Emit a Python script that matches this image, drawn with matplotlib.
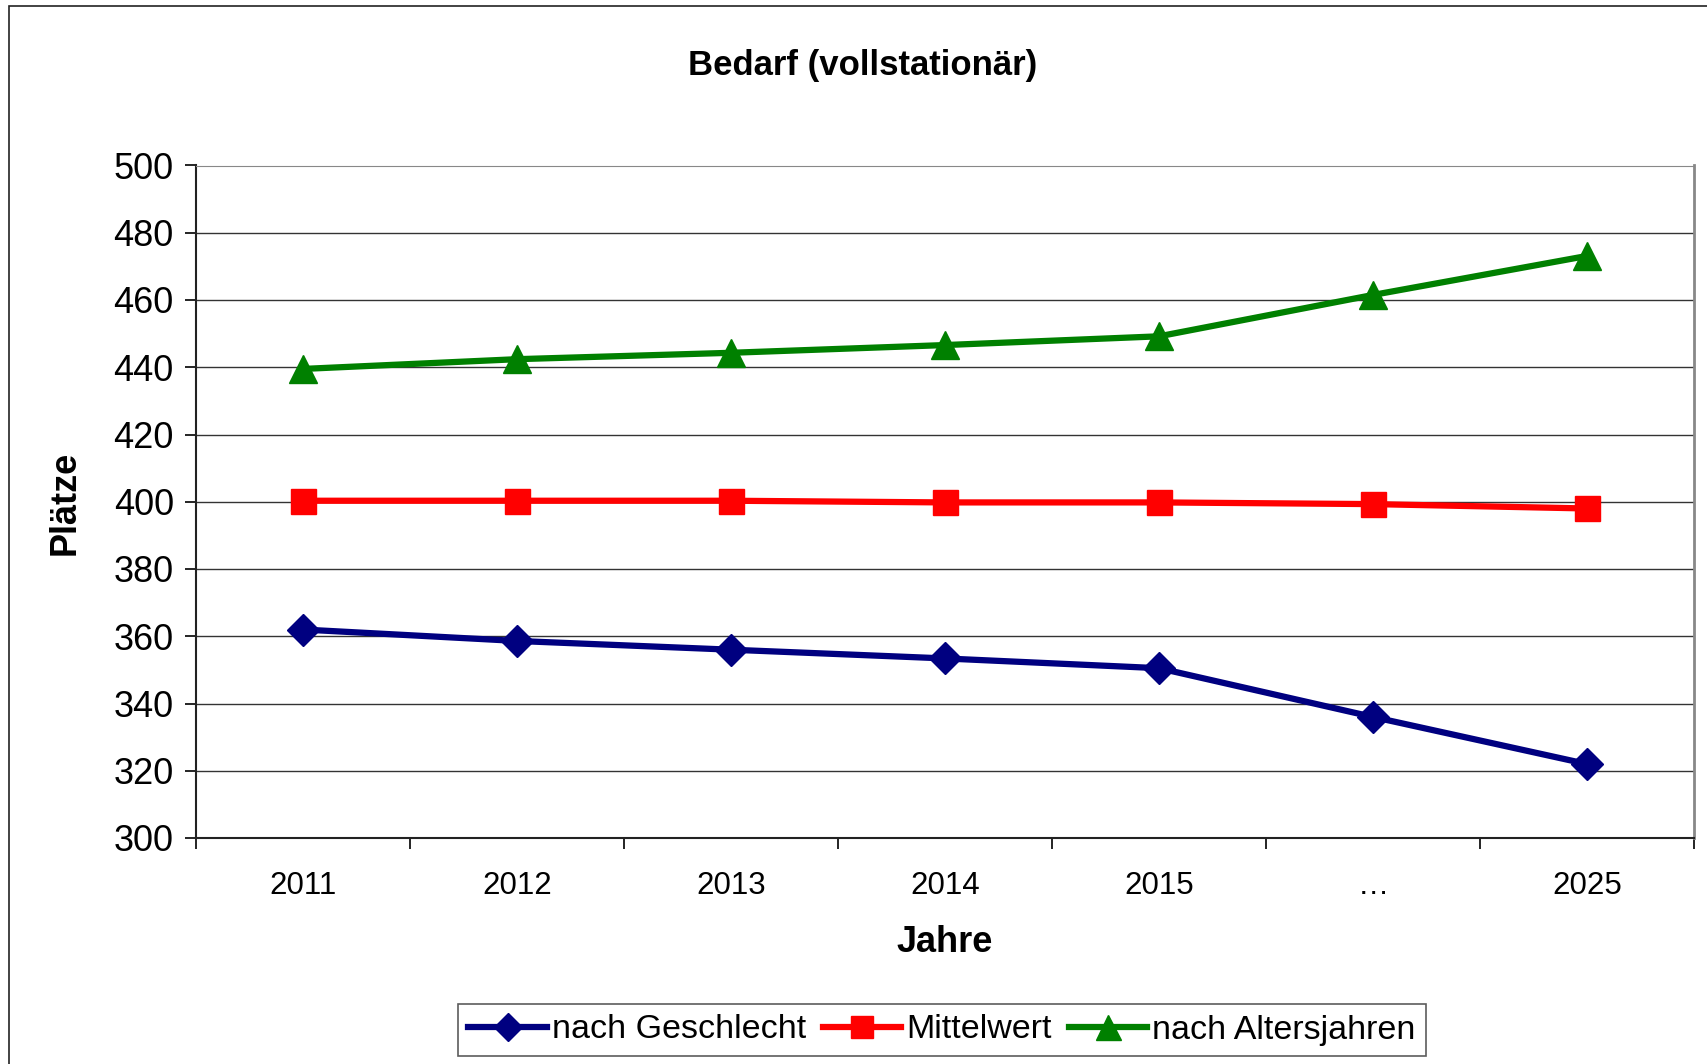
import matplotlib
matplotlib.use("Agg")
import matplotlib.pyplot as plt
from matplotlib.patches import Rectangle

# data
jahre = ["2011", "2012", "2013", "2014", "2015", "…", "2025"]
nach_geschlecht = [362, 358.6, 356, 353.4, 350.5, 336, 322]
mittelwert = [400.3, 400.3, 400.3, 399.8, 399.8, 399.3, 398]
nach_altersjahren = [439.5, 442.4, 444.3, 446.6, 449.2, 461.5, 473.1]
y_ticks = [300, 320, 340, 360, 380, 400, 420, 440, 460, 480, 500]

plt.rcParams['font.family'] = ['Liberation Sans', 'DejaVu Sans']

W, H = 1707, 1064
fig = plt.figure(figsize=(W / 100, H / 100), dpi=100)
fig.patches.append(Rectangle((9 / W, -0.1), 1.2, 1 - 6 / H + 0.1,
                             transform=fig.transFigure, fill=False,
                             edgecolor="#222222", linewidth=1.2))

ax = fig.add_axes([196 / W, 1 - 838 / H, (1694 - 196) / W, (838 - 165.5) / H])

x = list(range(len(jahre)))
ax.plot(x, nach_geschlecht, color="#000080", lw=4.5, marker="D", ms=16,
        label="nach Geschlecht", zorder=3)
ax.plot(x, mittelwert, color="#ff0000", lw=4.5, marker="s", ms=18,
        label="Mittelwert", zorder=3)
ax.plot(x, nach_altersjahren, color="#008000", lw=4.5, marker="^", ms=20,
        label="nach Altersjahren", zorder=3)

ax.set_xlim(-0.5, len(jahre) - 0.5)
ax.set_ylim(300, 500)
ax.set_yticks(y_ticks)
ax.tick_params(axis="y", labelsize=26, length=8, width=1.2, pad=8)
ax.set_xticks(x)
ax.set_xticklabels(jahre)
ax.tick_params(axis="x", which="major", length=0, labelsize=22.5, pad=24)
ax.set_xticks([i + 0.5 for i in range(-1, len(jahre))], minor=True)
ax.tick_params(axis="x", which="minor", length=8, width=1.2)

ax.grid(axis="y", color="#333333", linewidth=1.0)
ax.set_axisbelow(True)
for side in ["left", "bottom"]:
    ax.spines[side].set_color("#222222")
    ax.spines[side].set_linewidth(1.5)
ax.spines["top"].set_color("#888888")
ax.spines["right"].set_color("#888888")
ax.spines["right"].set_linewidth(2)

fig.text(863 / W, 1 - 65 / H, "Bedarf (vollstationär)", ha="center", va="center",
         fontsize=25, fontweight="bold")
fig.text(945 / W, 1 - 942 / H, "Jahre", ha="center", va="center",
         fontsize=26, fontweight="bold")
fig.text(65 / W, 1 - 503 / H, "Plätze", ha="center", va="center",
         fontsize=26, fontweight="bold", rotation=90)

leg = fig.legend(loc="center", bbox_to_anchor=(942 / W, 1 - 1030 / H), ncol=3,
                 fontsize=24.5, frameon=True, fancybox=False, edgecolor="#333333",
                 handlelength=2.3, handletextpad=0.15, columnspacing=0.5,
                 borderpad=0.3, markerscale=0.9)
leg.get_frame().set_linewidth(1.2)

fig.savefig("out.png", dpi=100)
